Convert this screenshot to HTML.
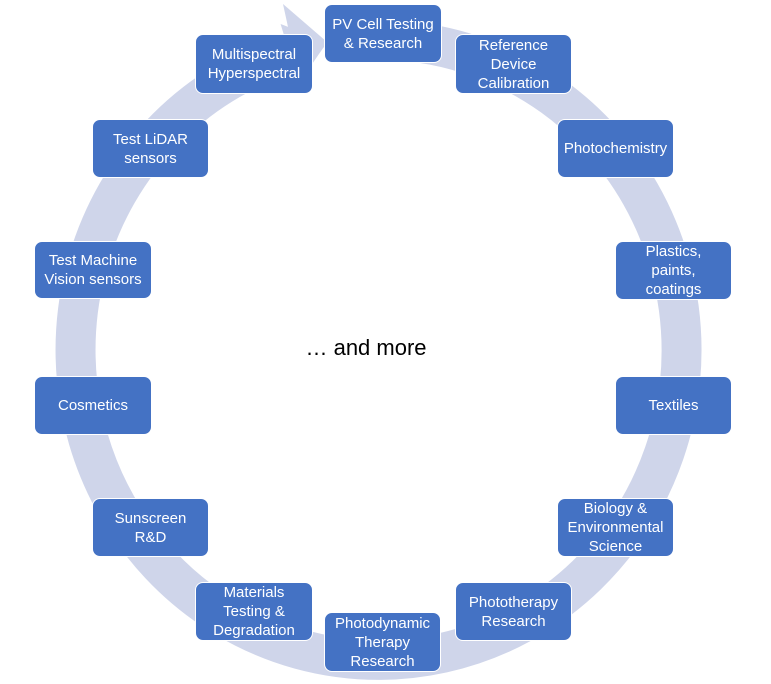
<!DOCTYPE html>
<html><head><meta charset="utf-8"><style>
body{margin:0;background:#fff;width:771px;height:684px;position:relative;overflow:hidden;font-family:"Liberation Sans",sans-serif}
.b{position:absolute;background:#4472c4;border:1.5px solid #fff;border-radius:8px;box-sizing:border-box;color:#fff;font-size:15px;line-height:19px;display:flex;align-items:center;justify-content:center;text-align:center}
</style></head><body>
<svg width="771" height="684" style="position:absolute;left:0;top:0">
<path d="M 340 42.4 A 303 310 0 1 1 289.4 53.6" fill="none" stroke="#cfd5ea" stroke-width="40"/>
<polygon points="280.6,24 298.2,82 327.6,42" fill="#cfd5ea"/>
<polygon points="283,4 300,82 327,42" fill="#cfd5ea"/>
</svg>
<div class="b" style="left:324px;top:4px;width:118px;height:59px">PV Cell Testing<br>&amp; Research</div>
<div class="b" style="left:455px;top:34px;width:117px;height:60px">Reference<br>Device<br>Calibration</div>
<div class="b" style="left:195px;top:34px;width:118px;height:60px">Multispectral<br>Hyperspectral</div>
<div class="b" style="left:92px;top:119px;width:117px;height:59px">Test LiDAR<br>sensors</div>
<div class="b" style="left:557px;top:119px;width:117px;height:59px">Photochemistry</div>
<div class="b" style="left:34px;top:241px;width:118px;height:58px">Test Machine<br>Vision sensors</div>
<div class="b" style="left:615px;top:241px;width:117px;height:59px">Plastics,<br>paints,<br>coatings</div>
<div class="b" style="left:34px;top:376px;width:118px;height:59px">Cosmetics</div>
<div class="b" style="left:615px;top:376px;width:117px;height:59px">Textiles</div>
<div class="b" style="left:92px;top:498px;width:117px;height:59px">Sunscreen<br>R&amp;D</div>
<div class="b" style="left:557px;top:498px;width:117px;height:59px">Biology &amp;<br>Environmental<br>Science</div>
<div class="b" style="left:195px;top:582px;width:118px;height:59px">Materials<br>Testing &amp;<br>Degradation</div>
<div class="b" style="left:455px;top:582px;width:117px;height:59px">Phototherapy<br>Research</div>
<div class="b" style="left:324px;top:612px;width:117px;height:60px">Photodynamic<br>Therapy<br>Research</div>
<div style="position:absolute;left:266px;top:334px;width:200px;text-align:center;font-size:22px;line-height:28px;color:#000">… and more</div>
</body></html>
